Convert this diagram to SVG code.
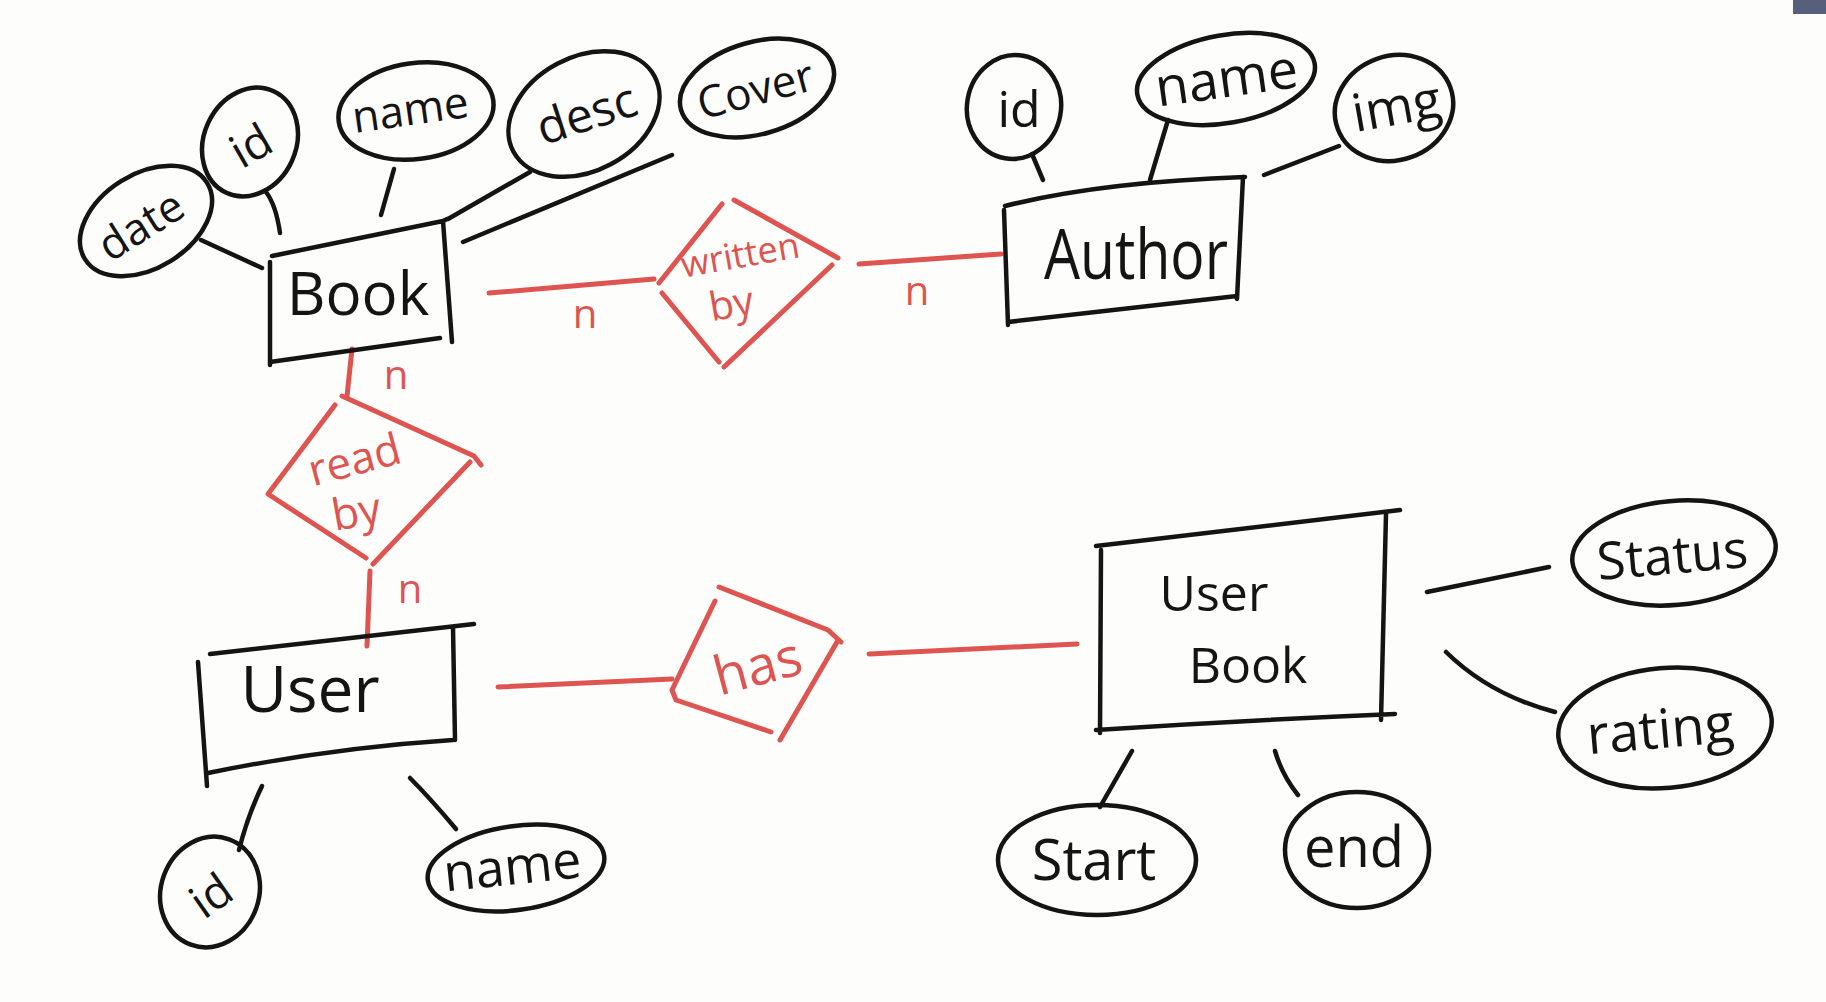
<svg xmlns="http://www.w3.org/2000/svg" width="1826" height="1002" viewBox="0 0 1826 1002">
<style>
.ink{stroke:#141414;stroke-width:4.5;fill:none;stroke-linecap:round;stroke-linejoin:round}
.red{stroke:#de5450;stroke-width:5;fill:none;stroke-linecap:round;stroke-linejoin:round}
.t{font-family:"Open Sans","Liberation Sans",sans-serif;fill:#141414;text-anchor:middle;dominant-baseline:central}
.rt{font-family:"Open Sans","Liberation Sans",sans-serif;fill:#de5450;text-anchor:middle;dominant-baseline:central}
</style>
<rect x="0" y="0" width="1826" height="1002" fill="#fdfdfb"/>
<rect x="1793" y="0" width="33" height="14" fill="#56607a"/>

<g id="connectors">
  <path class="ink" d="M201,240 L262,268"/>
  <path class="ink" d="M266,192 Q276,205 280,233"/>
  <path class="ink" d="M394,169 L381,215"/>
  <path class="ink" d="M530,172 L448,219"/>
  <path class="ink" d="M672,155 L463,242"/>
  <path class="ink" d="M1032,154 L1043,180"/>
  <path class="ink" d="M1168,120 L1150,180"/>
  <path class="ink" d="M1339,146 L1264,175"/>
  <path class="ink" d="M262,786 Q248,815 239,850"/>
  <path class="ink" d="M410,778 Q430,798 456,829"/>
  <path class="ink" d="M1427,592 L1549,567"/>
  <path class="ink" d="M1446,652 Q1490,695 1555,712"/>
  <path class="ink" d="M1132,751 L1100,807"/>
  <path class="ink" d="M1275,751 Q1282,775 1298,795"/>
  <path class="red" d="M489,293 L654,279"/>
  <path class="red" d="M859,264 L1001,254"/>
  <path class="red" d="M352,349 L347,396"/>
  <path class="red" d="M370,571 L367,646"/>
  <path class="red" d="M498,687 L672,679"/>
  <path class="red" d="M869,654 L1077,644"/>
  <text class="rt" x="585" y="312" font-size="40">n</text>
  <text class="rt" x="917" y="289" font-size="40">n</text>
  <text class="rt" x="396" y="373" font-size="40">n</text>
  <text class="rt" x="410" y="587" font-size="40">n</text>
</g>

<g id="book">
  <path class="ink" d="M272,256 L443,221 L452,342 M443,221 L447,219 M270,262 L270,365 M270,362 L440,338"/>
  <text class="t" x="358" y="292" font-size="60">Book</text>
</g>
<g id="book-date">
  <ellipse class="ink" cx="146" cy="221" rx="72" ry="47" transform="rotate(-32 146 221)"/>
  <text class="t" x="140" y="224" font-size="44" transform="rotate(-32 140 224)">date</text>
</g>
<g id="book-id">
  <ellipse class="ink" cx="250" cy="142" rx="46" ry="56" transform="rotate(25 250 142)"/>
  <text class="t" x="250" y="144" font-size="46" transform="rotate(-30 250 144)">id</text>
</g>
<g id="book-name">
  <ellipse class="ink" cx="416" cy="111" rx="78" ry="48" transform="rotate(-8 416 111)"/>
  <text class="t" x="410" y="108" font-size="44" transform="rotate(-8 410 108)">name</text>
</g>
<g id="book-desc">
  <ellipse class="ink" cx="584" cy="114" rx="80" ry="57" transform="rotate(-28 584 114)"/>
  <text class="t" x="586" y="112" font-size="48" transform="rotate(-18 586 112)">desc</text>
</g>
<g id="book-cover">
  <ellipse class="ink" cx="757" cy="88" rx="79" ry="46" transform="rotate(-16 757 88)"/>
  <text class="t" x="755" y="88" font-size="44" transform="rotate(-15 755 88)">Cover</text>
</g>

<g id="written-by">
  <path class="red" d="M734,200 L838,258 M832,265 L724,367 M719,362 L662,293 M659,283 L722,204"/>
  <text class="rt" x="740" y="254" font-size="36" transform="rotate(-10 740 254)">written</text>
  <text class="rt" x="731" y="302" font-size="40" transform="rotate(-10 731 302)">by</text>
</g>

<g id="author">
  <path class="ink" d="M1005,206 Q1100,182 1245,177 M1243,177 L1237,299 M1004,210 L1008,325 M1008,322 L1237,296"/>
  <text class="t" x="1136" y="252" font-size="70" textLength="184" lengthAdjust="spacingAndGlyphs">Author</text>
</g>
<g id="author-id">
  <ellipse class="ink" cx="1014" cy="107" rx="47" ry="52" transform="rotate(10 1014 107)"/>
  <text class="t" x="1019" y="108" font-size="50">id</text>
</g>
<g id="author-name">
  <ellipse class="ink" cx="1226" cy="79" rx="90" ry="44" transform="rotate(-10 1226 79)"/>
  <text class="t" x="1226" y="76" font-size="54" transform="rotate(-8 1226 76)">name</text>
</g>
<g id="author-img">
  <ellipse class="ink" cx="1394" cy="108" rx="60" ry="52" transform="rotate(-20 1394 108)"/>
  <text class="t" x="1396" y="104" font-size="52" transform="rotate(-10 1396 104)">img</text>
</g>

<g id="read-by">
  <path class="red" d="M342,396 L474,456 L481,465 M470,462 L373,564 M366,558 L268,494 L335,405"/>
  <text class="rt" x="354" y="458" font-size="44" transform="rotate(-15 354 458)">read</text>
  <text class="rt" x="356" y="510" font-size="44" transform="rotate(-10 356 510)">by</text>
</g>

<g id="user">
  <path class="ink" d="M210,654 L474,624 M453,627 L455,740 M198,662 L207,786 M208,773 Q330,748 453,740"/>
  <text class="t" x="310" y="687" font-size="64">User</text>
</g>
<g id="user-id">
  <ellipse class="ink" cx="210" cy="892" rx="56" ry="49" transform="rotate(-70 210 892)"/>
  <text class="t" x="210" y="894" font-size="46" transform="rotate(-35 210 894)">id</text>
</g>
<g id="user-name">
  <ellipse class="ink" cx="516" cy="868" rx="89" ry="42" transform="rotate(-8 516 868)"/>
  <text class="t" x="512" y="864" font-size="52" transform="rotate(-6 512 864)">name</text>
</g>

<g id="has">
  <path class="red" d="M719,587 L828,630 L841,642 M837,642 L780,740 M771,732 L676,700 L672,690 L715,601"/>
  <text class="rt" x="757" y="664" font-size="54" transform="rotate(-15 757 664)">has</text>
</g>

<g id="user-book">
  <path class="ink" d="M1096,546 L1400,510 M1386,514 L1381,720 M1101,550 L1100,733 M1096,730 Q1250,720 1395,714"/>
  <text class="t" x="1214" y="592" font-size="50">User</text>
  <text class="t" x="1248" y="664" font-size="50">Book</text>
</g>
<g id="ub-status">
  <ellipse class="ink" cx="1674" cy="553" rx="102" ry="52" transform="rotate(-5 1674 553)"/>
  <text class="t" x="1672" y="553" font-size="52" transform="rotate(-5 1672 553)">Status</text>
</g>
<g id="ub-rating">
  <ellipse class="ink" cx="1665" cy="728" rx="107" ry="60" transform="rotate(-5 1665 728)"/>
  <text class="t" x="1660" y="727" font-size="54" transform="rotate(-5 1660 727)">rating</text>
</g>
<g id="ub-start">
  <ellipse class="ink" cx="1097" cy="860" rx="99" ry="55"/>
  <text class="t" x="1094" y="858" font-size="56">Start</text>
</g>
<g id="ub-end">
  <ellipse class="ink" cx="1357" cy="850" rx="72" ry="58"/>
  <text class="t" x="1354" y="845" font-size="56">end</text>
</g>
</svg>
